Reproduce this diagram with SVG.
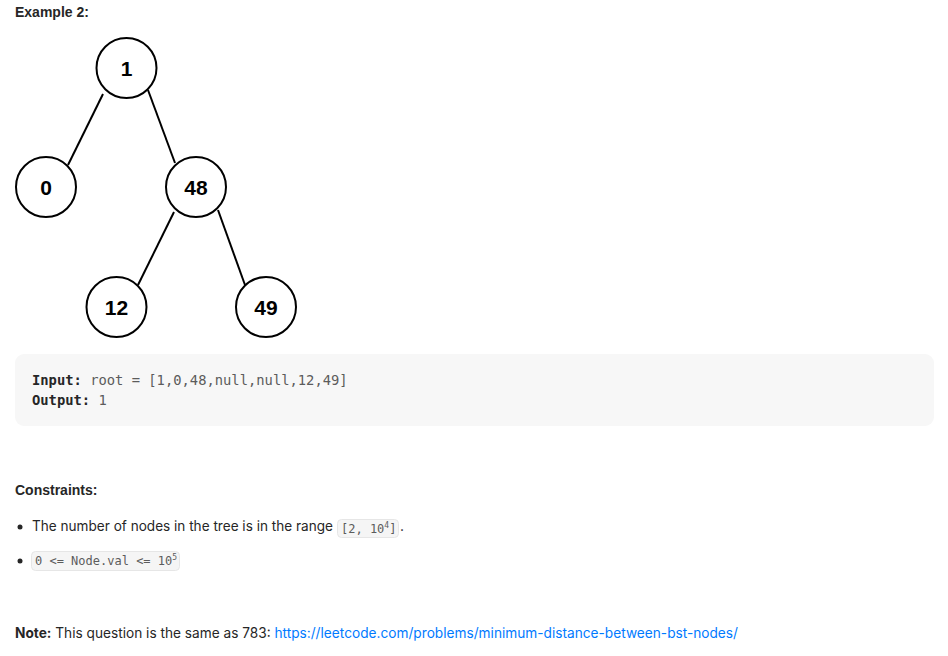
<svg xmlns="http://www.w3.org/2000/svg" width="948" height="656" viewBox="0 0 948 656">
<style>
.node circle{fill:#fff;stroke:#000;stroke-width:2}
.node text{font-family:"Liberation Sans",Arial,sans-serif;font-weight:bold;font-size:21px;fill:#000;text-anchor:middle}
.edges line{stroke:#000;stroke-width:2}
.t{font-family:"Liberation Sans",Arial,sans-serif;font-size:14px;fill:#262626}
.i{font-family:Inter,"Liberation Sans",Arial,sans-serif;font-size:14px;fill:#262626}
.b{font-weight:bold}
.m{font-family:"DejaVu Sans Mono","Liberation Mono",monospace;fill:#5c5c5c}
.mb{font-weight:bold;fill:#262626}
.ic{fill:#f5f5f5;stroke:#e6e6e6;stroke-width:1}
.link{fill:#007aff}
</style>
<rect width="948" height="656" fill="#fff"/>
<text class="t b" x="15" y="17" font-size="13">Example 2:</text>
<g class="edges">
<line x1="103" y1="94" x2="68" y2="165"/>
<line x1="148" y1="90" x2="175" y2="163"/>
<line x1="174" y1="212" x2="138" y2="285"/>
<line x1="218" y1="210" x2="245" y2="285"/>
</g>
<g id="n1" class="node"><circle cx="126.5" cy="68" r="30"/><text x="126.5" y="75.5">1</text></g>
<g id="n0" class="node"><circle cx="46" cy="187" r="30"/><text x="46" y="194.5">0</text></g>
<g id="n48" class="node"><circle cx="196" cy="187" r="30"/><text x="196" y="194.5">48</text></g>
<g id="n12" class="node"><circle cx="116.5" cy="307" r="30"/><text x="116.5" y="314.5">12</text></g>
<g id="n49" class="node"><circle cx="266" cy="307" r="30"/><text x="266" y="314.5">49</text></g>
<rect x="15" y="354" width="919" height="72" rx="9" fill="#f7f7f7"/>
<text class="m" x="32" y="385" font-size="13.8"><tspan class="mb">Input:</tspan> root = [1,0,48,null,null,12,49]</text>
<text class="m" x="32" y="405" font-size="13.8"><tspan class="mb">Output:</tspan> 1</text>
<text class="t b" x="15" y="495">Constraints:</text>
<circle cx="20" cy="527" r="2.5" fill="#262626"/>
<text class="i" x="32" y="531" textLength="301" lengthAdjust="spacingAndGlyphs">The number of nodes in the tree is in the range</text>
<rect class="ic" x="337.5" y="519.5" width="61" height="18" rx="4"/>
<text class="m" x="341" y="533" font-size="12">[2, 10<tspan font-size="8" dy="-5">4</tspan><tspan dy="5">]</tspan></text>
<text class="i" x="400" y="531">.</text>
<circle cx="20" cy="561" r="2.5" fill="#262626"/>
<rect class="ic" x="31.5" y="551.5" width="148" height="19" rx="4"/>
<text class="m" x="35" y="565" font-size="12">0 &lt;= Node.val &lt;= 10<tspan font-size="8" dy="-5">5</tspan></text>
<text class="i" x="15" y="638" textLength="723" lengthAdjust="spacingAndGlyphs"><tspan class="b">Note:</tspan> This question is the same as 783: <tspan class="link">https://leetcode.com/problems/minimum-distance-between-bst-nodes/</tspan></text>
</svg>
